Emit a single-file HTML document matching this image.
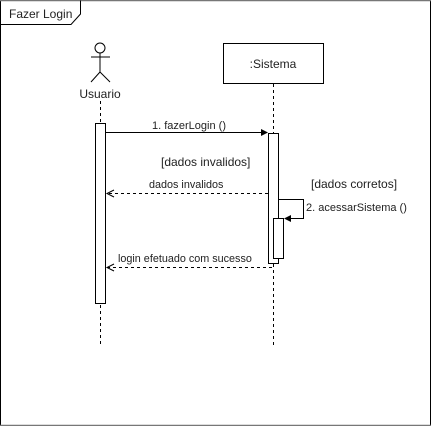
<!DOCTYPE html>
<html><head><style>html,body{margin:0;padding:0;background:#fff;}svg{display:block}</style></head>
<body>
<svg width="431" height="426" viewBox="0 0 431 426" xmlns="http://www.w3.org/2000/svg" font-family="Liberation Sans, sans-serif" font-size="11">
<rect x="0.5" y="0.5" width="430" height="425" fill="#fff" stroke="#000"/>
<line x1="0" y1="0.5" x2="431" y2="0.5" stroke="#777" stroke-width="1.5"/>
<line x1="0" y1="425.5" x2="431" y2="425.5" stroke="#777" stroke-width="1.5"/>
<path d="M0.5 24.5 H71 L80.5 14 V0.5" fill="none" stroke="#000"/>
<text x="9" y="18" font-size="12" fill="#222">Fazer Login</text>
<g stroke="#000" fill="none">
<circle cx="100" cy="48" r="5"/>
<line x1="100" y1="53" x2="100" y2="72"/>
<line x1="91" y1="57" x2="110" y2="57"/>
<line x1="100" y1="72" x2="91" y2="82"/>
<line x1="100" y1="72" x2="110" y2="82"/>
</g>
<text x="100" y="98" text-anchor="middle" font-size="12" fill="#222">Usuario</text>
<line x1="100.5" y1="101" x2="100.5" y2="345" stroke="#000" stroke-dasharray="3,3"/>
<rect x="95.5" y="123.5" width="10" height="180" fill="#fff" stroke="#000"/>
<rect x="223.5" y="43.5" width="100" height="40" fill="#fff" stroke="#000"/>
<text x="273" y="68" text-anchor="middle" font-size="12" fill="#222">:Sistema</text>
<line x1="273.5" y1="84" x2="273.5" y2="345" stroke="#000" stroke-dasharray="3,3"/>
<rect x="268.5" y="133.5" width="10" height="130" fill="#fff" stroke="#000"/>
<rect x="273.5" y="218.5" width="10" height="40" fill="#fff" stroke="#000"/>
<line x1="106" y1="132.5" x2="266" y2="132.5" stroke="#000"/>
<path d="M268 132.5 L261 129 L261 136 Z" fill="#000"/>
<text x="189" y="129" text-anchor="middle" font-size="11" fill="#222">1. fazerLogin ()</text>
<text x="161" y="166" font-size="12" fill="#222">[dados invalidos]</text>
<text x="311" y="188" font-size="12" fill="#222">[dados corretos]</text>
<line x1="268" y1="193.5" x2="107" y2="193.5" stroke="#000" stroke-dasharray="3,3"/>
<path d="M114 190 L107 193.5 L114 197" fill="none" stroke="#000"/>
<text x="149" y="188" font-size="10.8" fill="#222">dados invalidos</text>
<path d="M279 199.5 H303.5 V218.5 H288" fill="none" stroke="#000"/>
<path d="M284 218.5 L291 215 L291 222 Z" fill="#000"/>
<text x="306" y="211" font-size="11" fill="#222">2. acessarSistema ()</text>
<line x1="272" y1="267.5" x2="107" y2="267.5" stroke="#000" stroke-dasharray="3,3"/>
<path d="M114 264 L107 267.5 L114 271" fill="none" stroke="#000"/>
<text x="118" y="262" font-size="10.8" fill="#222">login efetuado com sucesso</text>
</svg>
</body></html>
